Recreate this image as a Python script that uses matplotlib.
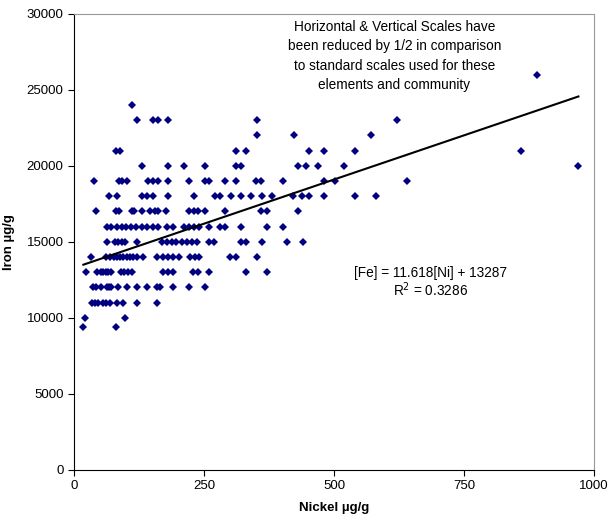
import matplotlib.pyplot as plt

plt.rcParams['font.family'] = ['Liberation Sans', 'DejaVu Sans']

# iron rows (ug/g) and nickel values read for each row
iron_levels = [26000, 24000, 23000, 22000, 21000, 20000, 19000, 18000, 17000,
               16000, 15000, 14000, 13000, 12000, 11000, 10000, 9400]
nickel_rows = [
    [890],
    [111],
    [121, 151, 161, 180, 351, 621],
    [351, 424, 571],
    [80, 88, 311, 331, 451, 481, 540, 859],
    [130, 180, 212, 251, 311, 321, 430, 446, 470, 520, 970],
    [39, 87, 92, 101, 142, 151, 161, 180, 221, 251, 260, 290, 311, 350, 360,
     401, 481, 501, 640],
    [67, 82, 130, 141, 151, 180, 231, 271, 281, 301, 321, 340, 361, 380, 421,
     439, 451, 481, 540, 581],
    [42, 80, 87, 111, 116, 130, 146, 156, 162, 176, 221, 231, 239, 251, 290,
     360, 371, 430],
    [63, 72, 82, 92, 100, 109, 119, 130, 141, 151, 161, 179, 191, 212, 222,
     231, 240, 260, 281, 290, 321, 371, 401],
    [63, 79, 85, 92, 98, 121, 169, 178, 188, 197, 207, 217, 226, 236, 260,
     270, 321, 331, 361, 410, 441],
    [33, 62, 69, 76, 82, 88, 95, 101, 108, 114, 121, 132, 160, 171, 180, 191,
     201, 223, 233, 241, 300, 311, 351],
    [23, 45, 51, 56, 62, 66, 72, 90, 97, 103, 112, 171, 180, 191, 229, 239,
     260, 331, 371],
    [36, 42, 52, 63, 68, 72, 85, 101, 121, 141, 160, 165, 191, 221, 251],
    [34, 40, 47, 55, 62, 69, 82, 95, 121, 160],
    [21, 98],
    [18, 81],
]

# trend line
slope = 11.618
intercept = 13287
fit_x = [18, 970]

nickel = []
iron = []
for fe, row in zip(iron_levels, nickel_rows):
    nickel += row
    iron += [fe] * len(row)

fig = plt.figure(figsize=(6.08, 5.2), dpi=100)
ax = fig.add_axes([0.1217, 0.0962, 0.8553, 0.8775])

ax.plot(nickel, iron, 'D', color='#000080', markersize=4.2, markeredgewidth=0,
        linestyle='none')
ax.plot(fit_x, [slope * v + intercept for v in fit_x], color='black', lw=1.5)

ax.set_xlim(0, 1000)
ax.set_ylim(0, 30000)
ax.set_xticks([0, 250, 500, 750, 1000])
ax.set_yticks(range(0, 30001, 5000))
ax.tick_params(labelsize=9.5, direction='out', length=4, width=0.8, colors='black')
ax.spines['top'].set_color('#999999')
ax.spines['right'].set_color('#999999')
ax.set_xlabel('Nickel µg/g', fontsize=9.5, fontweight='bold', labelpad=7)
ax.set_ylabel('Iron µg/g', fontsize=9.5, fontweight='bold', labelpad=8)

ax.text(616, 27220, 'Horizontal & Vertical Scales have\nbeen reduced by 1/2 in comparison\n'
        'to standard scales used for these\nelements and community',
        ha='center', va='center', fontsize=9.8, linespacing=1.48)
ax.text(686, 12330, '[Fe] = 11.618[Ni] + 13287\nR$^2$ = 0.3286',
        ha='center', va='center', fontsize=9.8, linespacing=1.05)

plt.savefig('out.png')
